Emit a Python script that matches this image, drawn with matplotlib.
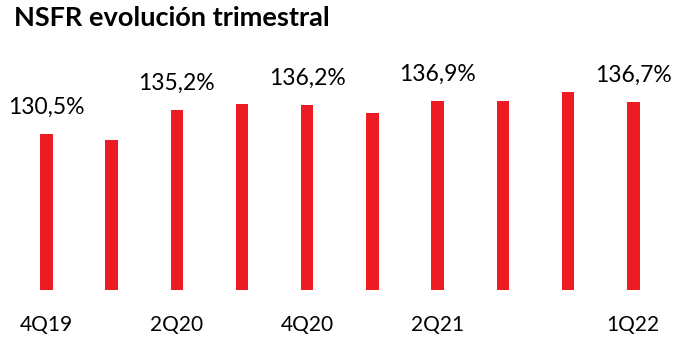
import matplotlib.pyplot as plt
import numpy as np

plt.rcParams['font.family'] = ['Lato', 'DejaVu Sans']

# NSFR trimestral (%)
trimestres = ['4Q19', '1Q20', '2Q20', '3Q20', '4Q20', '1Q21', '2Q21', '3Q21', '4Q21', '1Q22']
nsfr = [130.5, 129.4, 135.2, 136.3, 136.2, 134.6, 136.9, 136.9, 138.6, 136.7]
etiquetas_x = ['4Q19', '', '2Q20', '', '4Q20', '', '2Q21', '', '', '1Q22']
con_valor = [0, 2, 4, 6, 9]

fig = plt.figure(figsize=(6.73, 3.4), dpi=100)
ax = fig.add_axes([0.0205, 0.147, 0.969, 0.706])

x = np.arange(len(trimestres))
ax.bar(x, nsfr, width=0.19, bottom=0, color='#ED1C24')
ax.set_ylim(100, 146.9)
ax.set_xlim(-0.5, len(trimestres) - 0.5)

for i in con_valor:
    ax.annotate(f'{nsfr[i]:.1f}%'.replace('.', ','), (x[i], nsfr[i]),
                xytext=(0, 14.5), textcoords='offset points',
                ha='center', va='baseline', fontsize=16.5, color='black')

ax.set_xticks(x)
ax.set_xticklabels(etiquetas_x, fontsize=15)
ax.tick_params(axis='x', length=0, pad=18)
ax.set_yticks([])
for s in ax.spines.values():
    s.set_visible(False)

fig.text(0.021, 0.948, 'NSFR evolución trimestral', fontsize=19.5,
         fontweight='bold', ha='left', va='center')

fig.savefig('out.png', dpi=100)
